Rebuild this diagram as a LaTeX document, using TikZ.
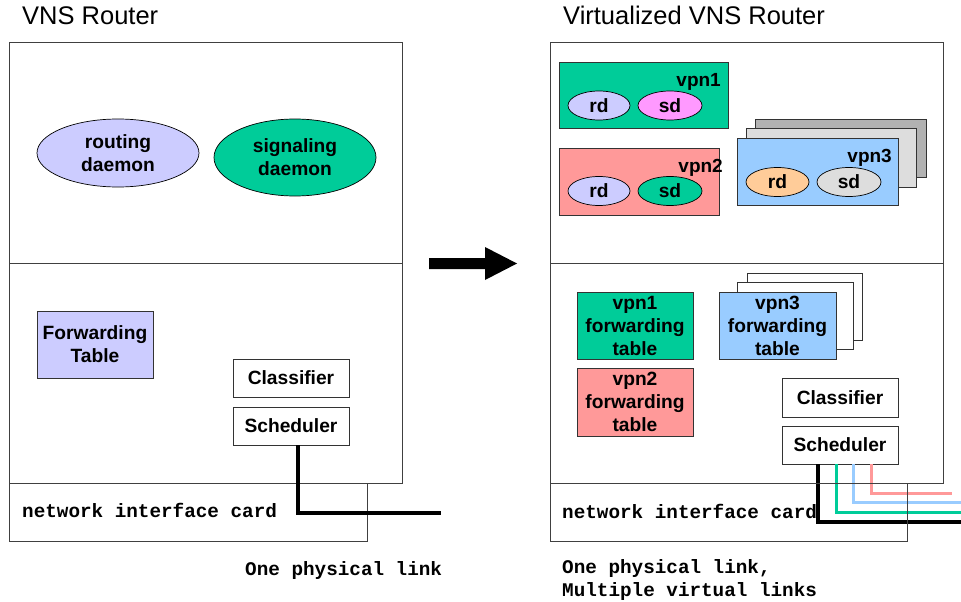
\documentclass[tikz,border=0pt]{standalone}
\usepackage{fontspec}
\setmainfont{Liberation Sans}
\setmonofont{Liberation Mono}
\usetikzlibrary{shapes.geometric}
\definecolor{vgreen}{HTML}{00CC99}
\definecolor{vlav}{HTML}{CCCCFF}
\definecolor{vpink}{HTML}{FF9999}
\definecolor{vmag}{HTML}{FF99FF}
\definecolor{vblue}{HTML}{99CCFF}
\definecolor{vorange}{HTML}{FFCC99}
\definecolor{vlgray}{HTML}{DDDDDD}
\definecolor{vdgray}{HTML}{B2B2B2}
\tikzset{
  frame/.style={draw=black!75, line width=0.9pt, inner sep=0pt, outer sep=0pt},
  box/.style={draw=black!80, line width=0.8pt, inner sep=0pt, outer sep=0pt,
    font=\bfseries\fontsize{19.2}{23}\selectfont, align=center},
  ell/.style={ellipse, draw=black, line width=0.7pt, inner sep=0pt, outer sep=0pt,
    font=\bfseries\fontsize{19.2}{23}\selectfont, align=center},
  lbl/.style={inner sep=0pt, font=\bfseries\fontsize{19}{23}\selectfont},
  title/.style={inner sep=0pt, font=\fontsize{25.5}{29}\selectfont},
  mono/.style={inner sep=0pt, font=\ttfamily\bfseries\fontsize{19.3}{23}\selectfont},
  phys/.style={line width=4pt, draw=black},
  virt/.style={line width=3pt},
}
\begin{document}
\begin{tikzpicture}[x=1pt,y=-1pt]
\useasboundingbox (0,0) rectangle (961,602);

% ---------------- Left: VNS Router ----------------
\node[title, anchor=base west] (tL) at (22,25) {VNS Router};
\node[frame, minimum width=393, minimum height=441] (routerL) at (205.5,262.5) {};
\draw[draw=black!75, line width=0.9pt] (9,263) -- (402,263);
\node[frame, minimum width=358, minimum height=58] (nicL) at (188,512) {};
\node[mono, anchor=base west] (nicLt) at (22,517) {network interface card};

\node[ell, fill=vlav, minimum width=162, minimum height=68] (rdL) at (118,153) {routing\\daemon};
\node[ell, fill=vgreen, minimum width=162, minimum height=77] (sdL) at (295,157.5) {signaling\\daemon};

\node[box, fill=vlav, minimum width=116, minimum height=67] (ftL) at (95,344.5) {Forwarding\\Table};
\node[box, fill=white, minimum width=116, minimum height=38] (clL) at (291,378) {Classifier};
\node[box, fill=white, minimum width=116, minimum height=38] (scL) at (291,426) {Scheduler};

\coordinate (lkL) at (441,513);
\draw[phys] ([xshift=7pt]scL.south) |- (lkL);
\node[mono, anchor=base west] (physL) at (245,575) {One physical link};

% ---------------- Arrow ----------------
\fill[black] (429,258) -- (485,258) -- (485,247) -- (517,263.5) -- (485,280) -- (485,269) -- (429,269) -- cycle;

% ---------------- Right: Virtualized VNS Router ----------------
\node[title, anchor=base west] (tR) at (563,25) {Virtualized VNS Router};

% vpn1
\node[box, fill=vgreen, minimum width=169, minimum height=66] (v1) at (643.5,95) {};
\node[lbl, anchor=base east] (v1l) at (721,86) {vpn1};
\node[ell, fill=vlav, minimum width=62, minimum height=29] (rd1) at (599,105.5) {rd};
\node[ell, fill=vmag, minimum width=64, minimum height=29] (sd1) at (670,105.5) {sd};

% vpn2
\node[box, fill=vpink, minimum width=160, minimum height=67] (v2) at (639,181.5) {};
\node[lbl, anchor=base east] (v2l) at (723,172) {vpn2};
\node[ell, fill=vlav, minimum width=62, minimum height=29] (rd2) at (599,191) {rd};
\node[ell, fill=vgreen, minimum width=64, minimum height=29] (sd2) at (670,191) {sd};

% vpn3 stack
\node[box, fill=vdgray, minimum width=171, minimum height=58] (v3b) at (840.5,148) {};
\node[box, fill=vlgray, minimum width=170, minimum height=59] (v3m) at (831,157.5) {};
\node[box, fill=vblue, minimum width=161, minimum height=67] (v3) at (817.5,171.5) {};
\node[lbl, anchor=base east] (v3l) at (892,162) {vpn3};
\node[ell, fill=vorange, minimum width=63, minimum height=29] (rd3) at (777.5,182) {rd};
\node[ell, fill=vlgray, minimum width=64, minimum height=29] (sd3) at (849,182) {sd};

% forwarding tables
\node[box, fill=vgreen, minimum width=116, minimum height=67] (fw1) at (635,325.5) {vpn1\\forwarding\\table};
\node[box, fill=vpink, minimum width=116, minimum height=68] (fw2) at (635,402) {vpn2\\forwarding\\table};
\node[box, fill=white, minimum width=115, minimum height=67] (fw3b) at (804.5,306.5) {};
\node[box, fill=white, minimum width=116, minimum height=67] (fw3m) at (795,315.5) {};
\node[box, fill=vblue, minimum width=117, minimum height=67] (fw3) at (777.5,325.5) {vpn3\\forwarding\\table};

\node[box, fill=white, minimum width=116, minimum height=39] (clR) at (840,397.5) {Classifier};
\node[box, fill=white, minimum width=116, minimum height=38] (scR) at (840,445) {Scheduler};

% links
\coordinate (lkR1) at (961,522);
\coordinate (lkR2) at (961,512);
\coordinate (lkR3) at (961,502.5);
\coordinate (lkR4) at (952,493);
\draw[virt, draw=vpink] ([xshift=31pt]scR.south) |- (lkR4);
\draw[virt, draw=vblue] ([xshift=13.5pt]scR.south) |- (lkR3);
\draw[virt, draw=vgreen] ([xshift=-4pt]scR.south) |- (lkR2);
\draw[phys, line width=3.5pt] ([xshift=-22pt]scR.south) |- (lkR1);

\node[frame, minimum width=393, minimum height=441] (routerR) at (746.5,262.5) {};
\draw[draw=black!75, line width=0.9pt] (550,263) -- (943,263);
\node[frame, minimum width=357, minimum height=58] (nicR) at (728.5,512) {};
\node[mono, anchor=base west] (nicRt) at (562,518) {network interface card};

\node[mono, anchor=base west] (physR) at (562,573) {One physical link,};
\node[mono, anchor=base west] (virtR) at (562,596) {Multiple virtual links};
\end{tikzpicture}
\end{document}
